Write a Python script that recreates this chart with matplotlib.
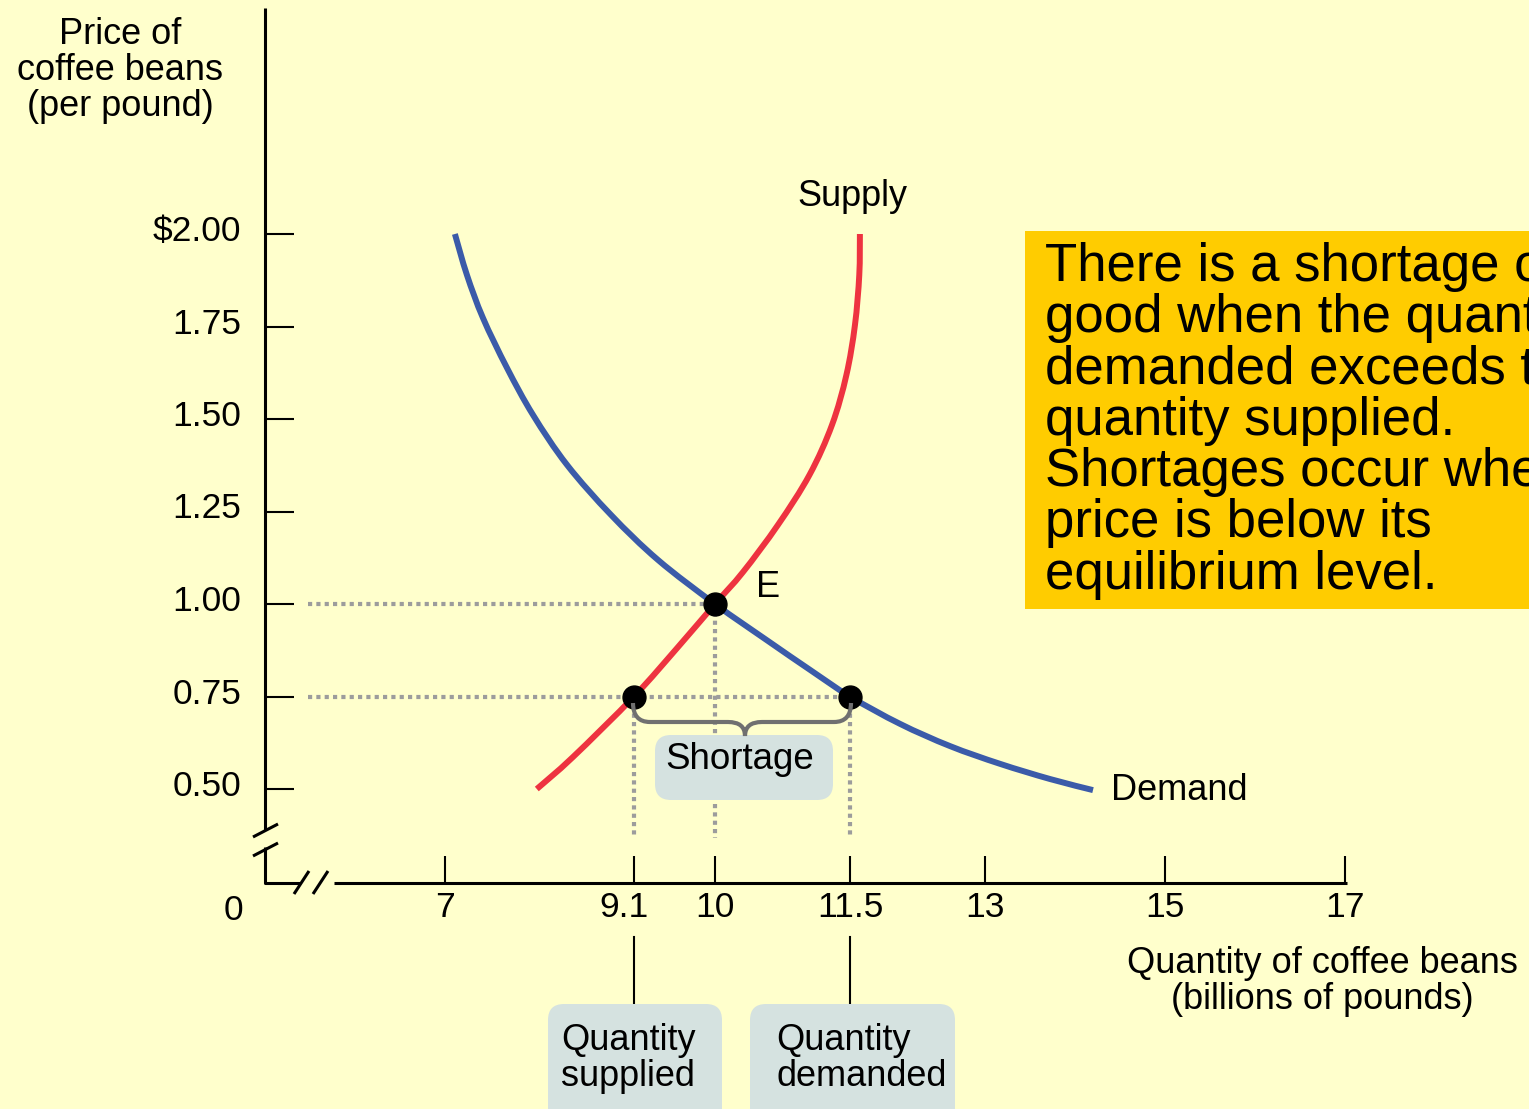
import matplotlib
matplotlib.use("Agg")
import matplotlib.pyplot as plt
from matplotlib.transforms import IdentityTransform, ScaledTranslation
from matplotlib.patches import FancyBboxPatch, Rectangle, PathPatch
from matplotlib.path import Path
from matplotlib.lines import Line2D

plt.rcParams['font.family'] = ['Liberation Sans', 'DejaVu Sans']

# ---------------- data ----------------
supply_qty = [8.02, 8.42, 9.10, 9.59, 10.00, 10.31, 10.70, 11.05, 11.30, 11.46, 11.555, 11.603, 11.61]
supply_price = [0.50, 0.586, 0.75, 0.884, 1.00, 1.086, 1.214, 1.349, 1.484, 1.619, 1.754, 1.889, 2.00]

demand_qty = [7.11, 7.244, 7.422, 7.689, 7.978, 8.356, 8.844, 9.367, 10.00, 10.589, 11.056, 11.50,
              12.056, 12.611, 13.167, 13.722, 14.20]
demand_price = [2.00, 1.889, 1.773, 1.638, 1.511, 1.376, 1.241, 1.119, 1.00, 0.90, 0.822, 0.75,
                0.676, 0.616, 0.568, 0.527, 0.497]

equilibrium_qty = [10.0]
equilibrium_price = [1.00]
shortage_qty = [9.1, 11.5]          # quantity supplied, quantity demanded
shortage_price = [0.75, 0.75]

qty_ticks = [7, 9.1, 10, 11.5, 13, 15, 17]
qty_tick_labels = ['7', '9.1', '10', '11.5', '13', '15', '17']
price_ticks = [0.50, 0.75, 1.00, 1.25, 1.50, 1.75, 2.00]
price_tick_labels = ['0.50', '0.75', '1.00', '1.25', '1.50', '1.75', '$2.00']

# ---------------- layout ----------------
W, H = 1529, 1109
BG = '#FFFFCC'
fig = plt.figure(figsize=(W / 100, H / 100), dpi=100, facecolor=BG)

AX_L, AX_R, AX_T, AX_B = 265, 1345, 8, 883
ax = fig.add_axes([AX_L / W, (H - AX_B) / H, (AX_R - AX_L) / W, (AX_B - AX_T) / H])
ax.patch.set_alpha(0)
# pixel mapping: x=7 -> 445px, 90 px/unit ; y=1.0 -> 604px, 370 px/unit
def X(px):
    return 7 + (px - 445) / 90.0
def Y(py):
    return 1 + (604 - py) / 370.0
ax.set_xlim(X(AX_L), X(AX_R))
ax.set_ylim(Y(AX_B), Y(AX_T))
for s in ax.spines.values():
    s.set_visible(False)

ax.set_xticks(qty_ticks, labels=qty_tick_labels)
ax.set_yticks(price_ticks, labels=price_tick_labels)
ax.tick_params(axis='x', direction='in', length=19.4, width=1.5, pad=6, labelsize=25.5, colors='black')
ax.tick_params(axis='y', direction='in', length=21, width=1.5, pad=17, labelsize=25.5, colors='black')
for t in ax.yaxis.get_major_ticks():
    t.label1.set_transform(t.label1.get_transform() + ScaledTranslation(0, 0.06, fig.dpi_scale_trans))
xt = ax.xaxis.get_major_ticks()
xt[1].label1.set_transform(xt[1].label1.get_transform() + ScaledTranslation(-0.10, 0, fig.dpi_scale_trans))

def P(px, py):
    return (px, H - py)

def pline(pts, lw=2.2, color='black'):
    xs = [p[0] for p in pts]
    ys = [H - p[1] for p in pts]
    fig.add_artist(Line2D(xs, ys, lw=lw, color=color, transform=IdentityTransform(),
                          solid_capstyle='butt'))

# broken axes
pline([(265, AX_T), (265, 830)])
pline([(253, 837), (278, 824)])
pline([(253, 856), (278, 843)])
pline([(265, 847), (265, 883), (300, 883)])
pline([(294, 894), (309, 871)])
pline([(313, 894), (328, 871)])
pline([(334, 883), (1347, 883)])

# dotted guide lines
dot_kw = dict(color='#9C9C9C', lw=3, linestyle=(0, (1, 1)), zorder=1)
ax.plot([X(308), equilibrium_qty[0]], [equilibrium_price[0]] * 2, **dot_kw)
ax.plot([X(308), shortage_qty[1]], [shortage_price[0]] * 2, **dot_kw)
ax.plot([equilibrium_qty[0]] * 2, [equilibrium_price[0], Y(838)], **dot_kw)
for q, p in zip(shortage_qty, shortage_price):
    ax.plot([q, q], [p, Y(838)], **dot_kw)

# curves: smooth Catmull-Rom style bezier path through the read points
def smooth_path(xs, ys):
    pts = list(zip(xs, ys))
    n = len(pts)
    verts = [pts[0]]
    codes = [Path.MOVETO]
    for i in range(n - 1):
        p0 = pts[i - 1] if i > 0 else pts[i]
        p1 = pts[i]
        p2 = pts[i + 1]
        p3 = pts[i + 2] if i + 2 < n else pts[i + 1]
        c1 = (p1[0] + (p2[0] - p0[0]) / 6, p1[1] + (p2[1] - p0[1]) / 6)
        c2 = (p2[0] - (p3[0] - p1[0]) / 6, p2[1] - (p3[1] - p1[1]) / 6)
        verts += [c1, c2, p2]
        codes += [Path.CURVE4] * 3
    return Path(verts, codes)

ax.add_patch(PathPatch(smooth_path(supply_qty, supply_price), fill=False, edgecolor='#EE3340',
                       lw=4.3, capstyle='butt', zorder=3))
ax.add_patch(PathPatch(smooth_path(demand_qty, demand_price), fill=False, edgecolor='#3B5BA9',
                       lw=4.3, capstyle='butt', zorder=3))

# points
ax.plot(equilibrium_qty, equilibrium_price, 'o', color='black', ms=16.5, zorder=5)
ax.plot(shortage_qty, shortage_price, 'o', color='black', ms=16.5, zorder=5)

# connectors to label boxes
for q in shortage_qty:
    ax.plot([q, q], [Y(937), Y(1003)], color='black', lw=1.5, clip_on=False)

# brace
verts = [(633, 703), (633, 722), (650, 722), (728, 722), (745, 722), (745, 736),
         (745, 722), (762, 722), (834, 722), (851, 722), (851, 703)]
codes = [Path.MOVETO, Path.CURVE3, Path.CURVE3, Path.LINETO, Path.CURVE3, Path.CURVE3,
         Path.CURVE3, Path.CURVE3, Path.LINETO, Path.CURVE3, Path.CURVE3]
brace = Path([P(*v) for v in verts], codes)
fig.add_artist(PathPatch(brace, fill=False, edgecolor='#707070', lw=3, transform=IdentityTransform(),
                         zorder=4))

BOX = '#D5E2E0'
def rbox(x0, y0, x1, y1, color):
    fig.add_artist(FancyBboxPatch((x0, H - y1), x1 - x0, y1 - y0,
                                  boxstyle='round,pad=0,rounding_size=16',
                                  facecolor=color, edgecolor='none', transform=IdentityTransform(),
                                  zorder=2))

rbox(655, 735, 833, 800, BOX)
rbox(548, 1004, 722, 1130, BOX)
rbox(750, 1004, 955, 1130, BOX)

# explanation box
fig.add_artist(Rectangle(P(1025, 609), 700, 378, facecolor='#FFCC00', edgecolor='none',
                         transform=IdentityTransform(), zorder=2))

def ptext(px, py, s, **kw):
    kw.setdefault('fontsize', 26)
    kw.setdefault('color', 'black')
    fig.text(*P(px, py), s, transform=IdentityTransform(), zorder=6, **kw)

ptext(1045, 242, 'There is a shortage of a\ngood when the quantity\ndemanded exceeds the\n'
      'quantity supplied.\nShortages occur when the\nprice is below its\nequilibrium level.',
      fontsize=38, ha='left', va='top', linespacing=1.033)

ptext(120, 17, 'Price of\ncoffee beans\n(per pound)', ha='center', va='top', linespacing=1.045,
      multialignment='center')
ptext(1322, 946, 'Quantity of coffee beans\n(billions of pounds)', ha='center', va='top',
      linespacing=1.05, multialignment='center')
ptext(561, 1023, 'Quantity\nsupplied', ha='left', va='top', linespacing=1.035)
ptext(776, 1023, 'Quantity\ndemanded', ha='left', va='top', linespacing=1.035)
ptext(740, 742, 'Shortage', ha='center', va='top', fontsize=26.5)
ptext(797, 206, 'Supply', ha='left', va='baseline')
ptext(1111, 800, 'Demand', ha='left', va='baseline')
ptext(756, 597, 'E', ha='left', va='baseline')
ptext(233, 920, '0', ha='center', va='baseline', fontsize=25.5)

fig.savefig('out.png', dpi=100, facecolor=BG)
